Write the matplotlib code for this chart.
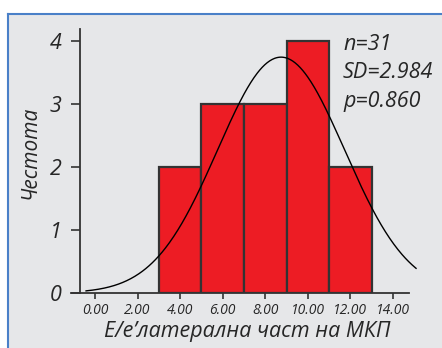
import numpy as np
import matplotlib
matplotlib.use("Agg")
import matplotlib.pyplot as plt
from matplotlib.patches import Rectangle
from matplotlib.lines import Line2D

# Histogram bins (bin edges) and counts per bin
bin_edges = [3.0, 5.0, 7.0, 9.0, 11.0, 13.0]
counts = [2, 3, 3, 4, 2]

# Fitted normal curve parameters
curve_mean = 8.74
curve_sd = 2.984
curve_range = (-0.42, 15.08)

x_ticks = [0, 2, 4, 6, 8, 10, 12, 14]
x_tick_labels = ["0.00", "2.00", "4.00", "6.00", "8.00", "10.00", "12.00", "14.00"]
y_ticks = [0, 1, 2, 3, 4]

stats_lines = ["n=31", "SD=2.984", "p=0.860"]

FONT = "Open Sans"
TEXT = "#262626"
W, H = 442, 348
fig = plt.figure(figsize=(W / 100, H / 100), dpi=100)
fig.patch.set_facecolor("white")

# Panel background with blue frame on top/left
bg_color = "#e6e7e9"
frame_color = "#4a80c8"
fig.patches.append(Rectangle((8 / W, 0), 1 - 8 / W, (H - 14) / H,
                             transform=fig.transFigure, facecolor=bg_color,
                             edgecolor="none", zorder=-5))
fig.lines.append(Line2D([8 / W, 1], [(H - 14) / H] * 2, transform=fig.transFigure,
                        color=frame_color, lw=1.5, zorder=-4))
fig.lines.append(Line2D([8 / W] * 2, [0, (H - 14) / H], transform=fig.transFigure,
                        color=frame_color, lw=1.5, zorder=-4))

ppu = 21.29  # pixels per x unit
x0_px = 95.0
xmin, xmax = -1.12, 15.1
ymin, ymax = 0, 4.19
left_px = x0_px + xmin * ppu
right_px = x0_px + xmax * ppu
ax = fig.add_axes([left_px / W, 55 / H, (right_px - left_px) / W, 264 / H])
ax.set_facecolor("none")
ax.set_xlim(xmin, xmax)
ax.set_ylim(ymin, ymax)

widths = np.diff(bin_edges)
ax.bar(bin_edges[:-1], counts, width=widths, align="edge", color="#ed1c24",
       edgecolor="#333333", linewidth=1.6, zorder=2)

n_hist = sum(counts)
bw = widths[0]
xs = np.linspace(curve_range[0], curve_range[1], 400)
ys = n_hist * bw / (curve_sd * np.sqrt(2 * np.pi)) * np.exp(-0.5 * ((xs - curve_mean) / curve_sd) ** 2)
ax.plot(xs, ys, color="black", lw=1.0, zorder=3, clip_on=False)

for s in ["top", "right"]:
    ax.spines[s].set_visible(False)
ax.spines["left"].set_position(("data", -0.70))
ax.spines["bottom"].set_bounds(xmin, 14.75)
for s in ["left", "bottom"]:
    ax.spines[s].set_color("#333333")
    ax.spines[s].set_linewidth(1.3)

ax.set_xticks(x_ticks)
ax.set_xticklabels(x_tick_labels, fontfamily=FONT, fontstyle="italic", fontsize=10, color=TEXT)
ax.set_yticks(y_ticks)
ax.set_yticklabels([str(v) for v in y_ticks], fontfamily=FONT, fontstyle="italic", fontsize=15.5, color=TEXT)
ax.tick_params(axis="x", length=4.5, width=1.2, color="#333333", pad=3)
ax.tick_params(axis="y", length=6.5, width=1.2, color="#333333", pad=7)

fig.text(30 / W, 1 - 152 / H, "Честота", rotation=90, ha="center", va="center",
         fontfamily=FONT, fontstyle="italic", fontsize=15, color=TEXT)
fig.text(247 / W, 1 - 331 / H, "E/e\u2019латерална част на МКП", ha="center", va="center",
         fontfamily=FONT, fontstyle="italic", fontsize=15.5, color=TEXT)

for i, line in enumerate(stats_lines):
    fig.text(343 / W, 1 - (45 + 28 * i) / H, line, ha="left", va="center",
             fontfamily=FONT, fontstyle="italic", fontsize=15.5, color=TEXT)

fig.savefig("out.png", dpi=100)
